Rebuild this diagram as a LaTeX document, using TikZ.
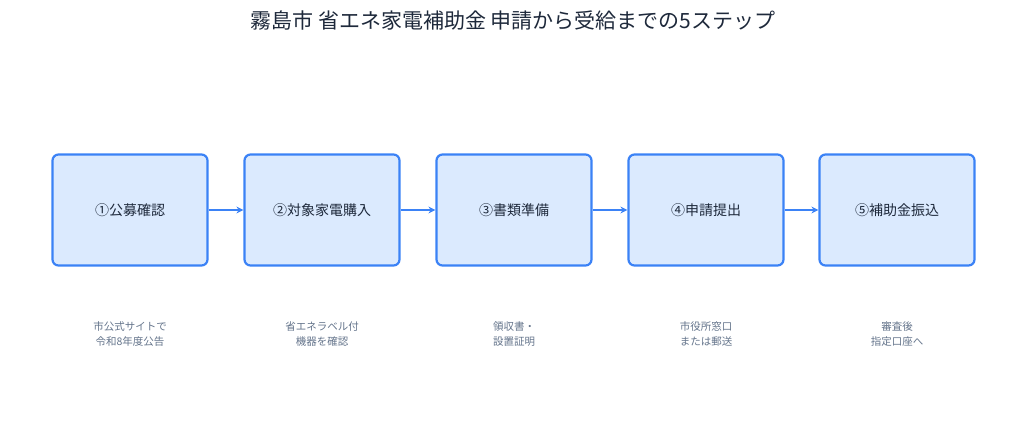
\documentclass[tikz,border=0pt]{standalone}
\usepackage{fontspec}
\setmainfont{Noto Sans CJK JP}
\usetikzlibrary{arrows.meta}
\definecolor{bd}{HTML}{3B82F6}
\definecolor{bf}{HTML}{DBEAFE}
\definecolor{tx}{HTML}{1E293B}
\definecolor{cap}{HTML}{64748B}
\begin{document}
\begin{tikzpicture}[x=1pt,y=-1pt,
 box/.style={draw=bd,fill=bf,line width=2.2pt,rounded corners=6pt,minimum width=155pt,minimum height=111pt,font=\fontsize{14}{16}\selectfont,text=tx},
 cp/.style={font=\fontsize{10.5}{15}\selectfont,text=cap,align=center},
 ar/.style={draw=bd,line width=2.2pt,-{Stealth[length=7pt,width=7pt]}}]
\useasboundingbox (0,0) rectangle (1027,432);
\node[font=\fontsize{21}{24}\selectfont,text=tx] (t) at (513,21) {霧島市 省エネ家電補助金 申請から受給までの5ステップ};
\foreach \i/\x/\l/\c in {1/130/①公募確認/{市公式サイトで\\令和8年度公告},2/322/②対象家電購入/{省エネラベル付\\機器を確認},3/514/③書類準備/{領収書・\\設置証明},4/706/④申請提出/{市役所窓口\\または郵送},5/897/⑤補助金振込/{審査後\\指定口座へ}}{
 \node[box] (b\i) at (\x,210) {\l};
 \node[cp] (c\i) at (\x,334) {\c};
}
\foreach \a/\b in {1/2,2/3,3/4,4/5} \draw[ar] (b\a) -- (b\b);
\end{tikzpicture}
\end{document}
